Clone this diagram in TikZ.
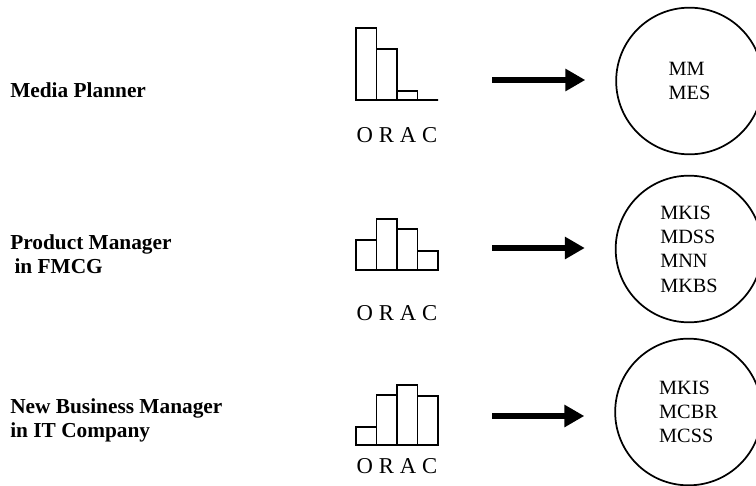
\documentclass[tikz,border=0pt]{standalone}
\usepackage{fontspec}
\setmainfont{Liberation Serif}
\usetikzlibrary{arrows.meta}
\tikzset {>=Stealth}
\tikzset{
  role/.style={anchor=base west,align=left,inner sep=0pt,
    font=\fontsize{16}{18}\selectfont\bfseries},
  skillset/.style={draw,circle,line width=1.3pt,minimum size=110pt,
    inner sep=0pt,align=left,font=\fontsize{15.2}{18.2}\selectfont},
  bar/.style={line width=1.4pt},
  orac/.style={anchor=base,inner sep=0pt,font=\fontsize{17}{18}\selectfont},
  bigarrow/.style={line width=3.8pt,-{Triangle[length=15pt,width=16pt]},
    shorten >=22.5pt}
}

\begin{document}
\begin{tikzpicture}[x=.75pt,y=-.75pt]
\useasboundingbox (0,0) rectangle (756,485);

% roles (base = last line)
\node[role] (r1) at (10,98) {Media Planner};
\node[role] (r2) at (10,273) {Product Manager\\\hspace{.2em}in FMCG};
\node[role] (r3) at (10,437) {New Business Manager\\in IT Company};

% bar charts
\coordinate (g1) at (356,100);
\coordinate (g2) at (356,270);
\coordinate (g3) at (356,445);
\foreach \k/\h in {0/72,1/51,2/9,3/0}
  \draw[bar,shift={(g1)}] (\k*20.5,0) rectangle ++(20.5,-\h);
\foreach \k/\h in {0/30,1/51,2/41,3/19}
  \draw[bar,shift={(g2)}] (\k*20.5,0) rectangle ++(20.5,-\h);
\foreach \k/\h in {0/18,1/50,2/60,3/49}
  \draw[bar,shift={(g3)}] (\k*20.5,0) rectangle ++(20.5,-\h);

\node[orac] (o1) at (397,142) {O\hspace{.26em}R\hspace{.26em}A\hspace{.26em}C};
\node[orac] (o2) at (397,320) {O\hspace{.26em}R\hspace{.26em}A\hspace{.26em}C};
\node[orac] (o3) at (397,473) {O\hspace{.26em}R\hspace{.26em}A\hspace{.26em}C};

% skill circles
\node[skillset] (c1) at (689.5,81) {MM\\MES};
\node[skillset] (c2) at (689,249) {MKIS\\MDSS\\MNN\\MKBS};
\node[skillset] (c3) at (688.5,412) {MKIS\\MCBR\\MCSS};

% arrows
\coordinate (s1) at (492,80);
\coordinate (s2) at (492,248);
\coordinate (s3) at (492,416);
\draw[bigarrow] (s1) -- (s1 -| c1.west);
\draw[bigarrow] (s2) -- (s2 -| c2.west);
\draw[bigarrow] (s3) -- (s3 -| c3.west);
\end{tikzpicture}
\end{document}
